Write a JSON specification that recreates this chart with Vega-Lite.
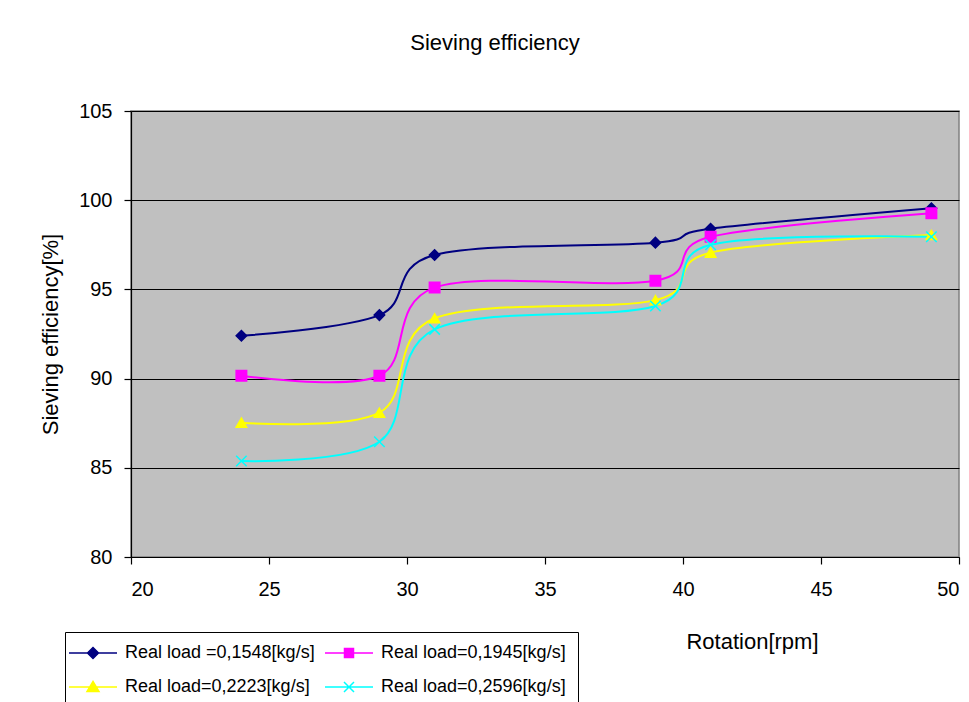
{
  "$schema": "https://vega.github.io/schema/vega-lite/v6.json",
  "width": 828,
  "height": 446,
  "autosize": {"type": "none"},
  "padding": {"left": 131, "top": 111, "right": 10, "bottom": 145},
  "background": "white",
  "title": {
    "text": "Sieving efficiency",
    "anchor": "middle",
    "dx": -50,
    "offset": 46,
    "font": "Liberation Sans",
    "fontSize": 22,
    "fontWeight": "normal",
    "color": "black"
  },
  "data": {
    "values": [
      {"series": "Real load =0,1548[kg/s]", "rpm": 24, "eff": 92.4},
      {"series": "Real load =0,1548[kg/s]", "rpm": 29, "eff": 93.56},
      {"series": "Real load =0,1548[kg/s]", "rpm": 31, "eff": 96.93},
      {"series": "Real load =0,1548[kg/s]", "rpm": 39, "eff": 97.62},
      {"series": "Real load =0,1548[kg/s]", "rpm": 41, "eff": 98.4},
      {"series": "Real load =0,1548[kg/s]", "rpm": 49, "eff": 99.55},
      {"series": "Real load=0,1945[kg/s]", "rpm": 24, "eff": 90.16},
      {"series": "Real load=0,1945[kg/s]", "rpm": 29, "eff": 90.16},
      {"series": "Real load=0,1945[kg/s]", "rpm": 31, "eff": 95.1},
      {"series": "Real load=0,1945[kg/s]", "rpm": 39, "eff": 95.49},
      {"series": "Real load=0,1945[kg/s]", "rpm": 41, "eff": 97.95},
      {"series": "Real load=0,1945[kg/s]", "rpm": 49, "eff": 99.27},
      {"series": "Real load=0,2223[kg/s]", "rpm": 24, "eff": 87.53},
      {"series": "Real load=0,2223[kg/s]", "rpm": 29, "eff": 88.09},
      {"series": "Real load=0,2223[kg/s]", "rpm": 31, "eff": 93.38},
      {"series": "Real load=0,2223[kg/s]", "rpm": 39, "eff": 94.4},
      {"series": "Real load=0,2223[kg/s]", "rpm": 41, "eff": 97.06},
      {"series": "Real load=0,2223[kg/s]", "rpm": 49, "eff": 98.05},
      {"series": "Real load=0,2596[kg/s]", "rpm": 24, "eff": 85.38},
      {"series": "Real load=0,2596[kg/s]", "rpm": 29, "eff": 86.46},
      {"series": "Real load=0,2596[kg/s]", "rpm": 31, "eff": 92.76},
      {"series": "Real load=0,2596[kg/s]", "rpm": 39, "eff": 94.07},
      {"series": "Real load=0,2596[kg/s]", "rpm": 41, "eff": 97.5},
      {"series": "Real load=0,2596[kg/s]", "rpm": 49, "eff": 97.95}
    ]
  },
  "encoding": {
    "x": {
      "field": "rpm", "type": "quantitative",
      "scale": {"domain": [20, 50], "nice": false, "zero": false},
      "axis": {
        "values": [20, 25, 30, 35, 40, 45, 50],
        "title": "Rotation[rpm]",
        "titleX": 621, "titleY": 84,
        "titleAlign": "center", "titleBaseline": "middle",
        "grid": false,
        "labelPadding": 15
      }
    },
    "y": {
      "field": "eff", "type": "quantitative",
      "scale": {"domain": [80, 105], "nice": false, "zero": false},
      "axis": {
        "values": [80, 85, 90, 95, 100, 105],
        "title": "Sieving efficiency[%]",
        "grid": true,
        "gridColor": "black",
        "gridOpacity": 1,
        "gridWidth": 1.2,
        "labelPadding": 12,
        "titlePadding": 16
      }
    }
  },
  "layer": [
    {
      "mark": {"type": "line", "interpolate": "cardinal", "strokeWidth": 2},
      "encoding": {
        "color": {
          "field": "series", "type": "nominal", "legend": null,
          "scale": {
            "domain": ["Real load =0,1548[kg/s]", "Real load=0,1945[kg/s]", "Real load=0,2223[kg/s]", "Real load=0,2596[kg/s]"],
            "range": ["#000080", "#FF00FF", "#FFFF00", "#00FFFF"]
          }
        }
      }
    },
    {
      "mark": {"type": "point", "filled": true, "size": 110, "strokeWidth": 1.5, "opacity": 1},
      "encoding": {
        "color": {
          "field": "series", "type": "nominal", "legend": null,
          "scale": {
            "domain": ["Real load =0,1548[kg/s]", "Real load=0,1945[kg/s]", "Real load=0,2223[kg/s]", "Real load=0,2596[kg/s]"],
            "range": ["#000080", "#FF00FF", "#FFFF00", "#00FFFF"]
          }
        },
        "stroke": {
          "field": "series", "type": "nominal", "legend": null,
          "scale": {
            "domain": ["Real load =0,1548[kg/s]", "Real load=0,1945[kg/s]", "Real load=0,2223[kg/s]", "Real load=0,2596[kg/s]"],
            "range": ["#000080", "#FF00FF", "#FFFF00", "#00FFFF"]
          }
        },
        "shape": {
          "field": "series", "type": "nominal", "legend": null,
          "scale": {
            "domain": ["Real load =0,1548[kg/s]", "Real load=0,1945[kg/s]", "Real load=0,2223[kg/s]", "Real load=0,2596[kg/s]"],
            "range": ["diamond", "square", "triangle-up", "M-1,-1L1,1M-1,1L1,-1"]
          }
        }
      }
    },
    {
      "transform": [{"filter": "false"}],
      "mark": {"type": "point", "filled": true, "size": 100, "strokeWidth": 1.5, "opacity": 1},
      "encoding": {
        "color": {
          "field": "series", "type": "nominal", "legend": {"title": null},
          "scale": {
            "domain": ["Real load =0,1548[kg/s]", "Real load=0,1945[kg/s]", "Real load=0,2223[kg/s]", "Real load=0,2596[kg/s]"],
            "range": ["#000080", "#FF00FF", "#FFFF00", "#00FFFF"]
          }
        },
        "stroke": {
          "field": "series", "type": "nominal", "legend": {"title": null},
          "scale": {
            "domain": ["Real load =0,1548[kg/s]", "Real load=0,1945[kg/s]", "Real load=0,2223[kg/s]", "Real load=0,2596[kg/s]"],
            "range": ["#000080", "#FF00FF", "#FFFF00", "#00FFFF"]
          }
        },
        "shape": {
          "field": "series", "type": "nominal", "legend": {"title": null},
          "scale": {
            "domain": ["Real load =0,1548[kg/s]", "Real load=0,1945[kg/s]", "Real load=0,2223[kg/s]", "Real load=0,2596[kg/s]"],
            "range": [
              "M-4.8,0H4.8M0,-1.1L1.1,0L0,1.1L-1.1,0Z",
              "M-4.8,0H4.8M-0.9,-0.9H0.9V0.9H-0.9Z",
              "M-4.8,0H4.8M0,-1.1L1.2,0.9H-1.2Z",
              "M-4.8,0H4.8M-1,-1L1,1M-1,1L1,-1"
            ]
          }
        }
      }
    }
  ],
  "resolve": {"scale": {"color": "independent", "stroke": "independent", "shape": "independent"}},
  "config": {
    "font": "Liberation Sans",
    "view": {"fill": "#C0C0C0", "stroke": "#808080", "strokeWidth": 1.5},
    "axis": {
      "labelFont": "Liberation Sans",
      "labelFontSize": 20,
      "labelColor": "black",
      "titleFont": "Liberation Sans",
      "titleFontSize": 22,
      "titleFontWeight": "normal",
      "titleColor": "black",
      "domainColor": "black",
      "domainWidth": 1.2,
      "tickColor": "black",
      "tickSize": 7,
      "tickWidth": 1.2
    },
    "legend": {
      "orient": "none",
      "legendX": -66,
      "legendY": 521,
      "direction": "horizontal",
      "columns": 2,
      "columnPadding": 7,
      "rowPadding": 16,
      "padding": 12,
      "strokeColor": "black",
      "fillColor": "white",
      "labelFont": "Liberation Sans",
      "labelFontSize": 18,
      "labelColor": "black",
      "labelLimit": 400,
      "symbolSize": 100,
      "symbolStrokeWidth": 1.5,
      "symbolOffset": 7,
      "labelOffset": 23
    }
  }
}
